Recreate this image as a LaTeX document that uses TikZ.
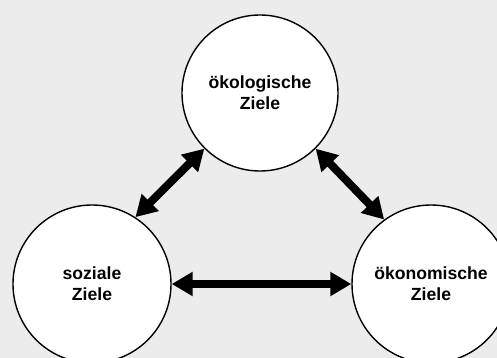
\documentclass[tikz,border=0pt]{standalone}
\usepackage{fontspec}
\setmainfont{Liberation Sans}
\usetikzlibrary{arrows.meta}
\definecolor{bggray}{HTML}{ECECEC}
\begin{document}
\begin{tikzpicture}[x=1pt,y=-1pt,
  goal/.style={circle,draw=black,line width=1.4pt,fill=white,minimum size=156pt,inner sep=0pt,
    align=center,font=\fontsize{17.6}{21}\selectfont\bfseries},
  dblarrow/.style={line width=8pt,{Triangle[width=23pt,length=21pt]}-{Triangle[width=23pt,length=21pt]}}]
\fill[bggray] (0,0) rectangle (497,358);
\useasboundingbox (0,0) rectangle (497,358);
\node[goal] (oek) at (260,93) {ökologische\\Ziele};
\node[goal,minimum size=158pt] (soz) at (92,284) {soziale\\Ziele};
\node[goal,minimum size=158pt] (oko) at (431,284) {ökonomische\\Ziele};
\draw[dblarrow] (soz.57) -- (oek.225);
\draw[dblarrow] (oek.315) -- (oko.126);
\draw[dblarrow] (soz.east) -- (oko.west);
\end{tikzpicture}
\end{document}
